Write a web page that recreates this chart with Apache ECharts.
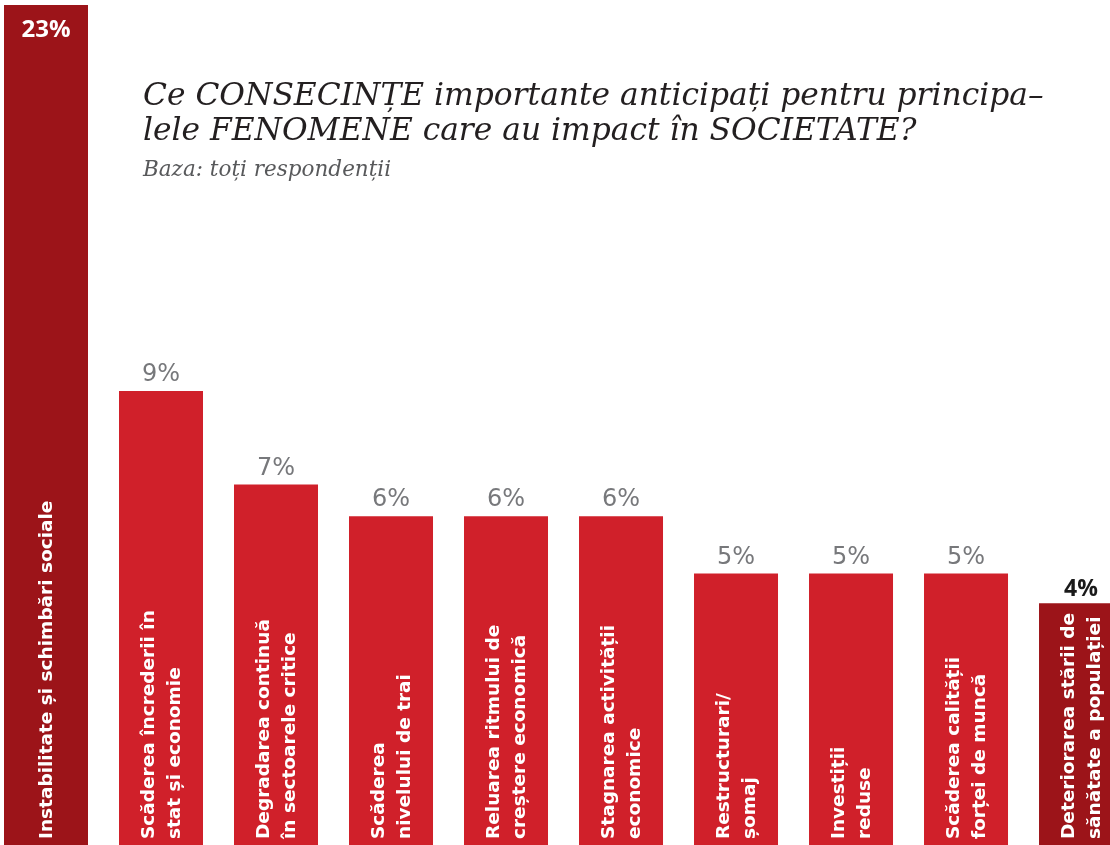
<!DOCTYPE html>
<html><head><meta charset="utf-8">
<script src="https://cdn.jsdelivr.net/npm/echarts@6/dist/echarts.min.js"></script>
<style>html,body{margin:0;padding:0;background:#fff}#c{width:1110px;height:845px}</style>
</head><body><div id="c"></div>
<script>
// ---- data ----
const categories = [
  "Instabilitate și schimbări sociale",
  "Scăderea încrederii în\nstat și economie",
  "Degradarea continuă\nîn sectoarele critice",
  "Scăderea\nnivelului de trai",
  "Reluarea ritmului de\ncreștere economică",
  "Stagnarea activității\neconomice",
  "Restructurari/\nșomaj",
  "Investiții\nreduse",
  "Scăderea calității\nforței de muncă",
  "Deteriorarea stării de\nsănătate a populației"
];
const values = [23, 9.0, 6.8, 6.05, 6.05, 6.05, 4.7, 4.7, 4.7, 4.0];
const highlighted = [0, 9];

const titleText = "Ce CONSECINȚE importante anticipați pentru principa–\nlele FENOMENE care au impact în SOCIETATE?";
const subtitleText = "Baza: toți respondenții";

// ---- style ----
const Y_MIN = -1.7, Y_MAX = 18.1;
const X_MIN = -0.4, X_MAX = 9.252;
const RED = "#d0202a", DARK = "#9c1419";
const BAR_RATIO = 84 / 115;
const LABEL_FONT = "DejaVu Sans";

function renderItem(params, api) {
  const i = api.value(0), v = api.value(1);
  const cs = params.coordSys;
  const top = api.coord([i, v]);
  const base = api.coord([i, Y_MIN]);
  const bw = api.size([1, 0])[0] * BAR_RATIO;
  const yTop = Math.max(top[1], cs.y);
  const hi = highlighted.indexOf(i) >= 0;
  const pct = Math.round(v) + "%";
  const children = [
    { type: "rect", shape: { x: top[0] - bw / 2, y: yTop, width: bw, height: base[1] - yTop },
      style: { fill: hi ? DARK : RED } },
    { type: "text", x: top[0] + 1, y: base[1] - 6, rotation: Math.PI / 2,
      style: { text: categories[i], fill: "#ffffff", fontFamily: LABEL_FONT, fontWeight: "bold",
               fontSize: 18.5, lineHeight: 26, align: "left", verticalAlign: "middle" } }
  ];
  if (top[1] < cs.y) {
    children.push({ type: "text", x: top[0], y: yTop + 13,
      style: { text: pct, fill: "#ffffff", fontFamily: "Open Sans", fontWeight: "bold", fontSize: 24,
               align: "center", verticalAlign: "top" } });
  } else if (hi) {
    children.push({ type: "text", x: top[0], y: yTop - 2,
      style: { text: pct, fill: "#1a1a1a", fontFamily: "Open Sans", fontWeight: "bold", fontSize: 23,
               align: "center", verticalAlign: "bottom" } });
  } else {
    children.push({ type: "text", x: top[0], y: yTop - 4,
      style: { text: pct, fill: "#77787b", fontFamily: LABEL_FONT, fontWeight: "normal", fontSize: 24,
               align: "center", verticalAlign: "bottom" } });
  }
  return { type: "group", children };
}

const chart = echarts.init(document.getElementById("c"), null, { renderer: "canvas" });
chart.setOption({
  animation: false,
  backgroundColor: "#ffffff",
  title: {
    text: titleText, subtext: subtitleText, left: 138, top: 74, itemGap: 10,
    textStyle: { fontFamily: "DejaVu Serif", fontStyle: "italic", fontWeight: "normal",
                 fontSize: 31.3, lineHeight: 35, color: "#231f20" },
    subtextStyle: { fontFamily: "DejaVu Serif", fontStyle: "italic", fontSize: 21.5, color: "#58595b" }
  },
  grid: { left: 0, right: 0, top: 5, bottom: 0 },
  xAxis: { type: "value", min: X_MIN, max: X_MAX, show: false },
  yAxis: { type: "value", min: Y_MIN, max: Y_MAX, show: false },
  series: [{
    type: "custom", renderItem,
    data: values.map((v, i) => [i, v]),
    encode: { x: 0, y: 1 }
  }]
});
</script></body></html>
